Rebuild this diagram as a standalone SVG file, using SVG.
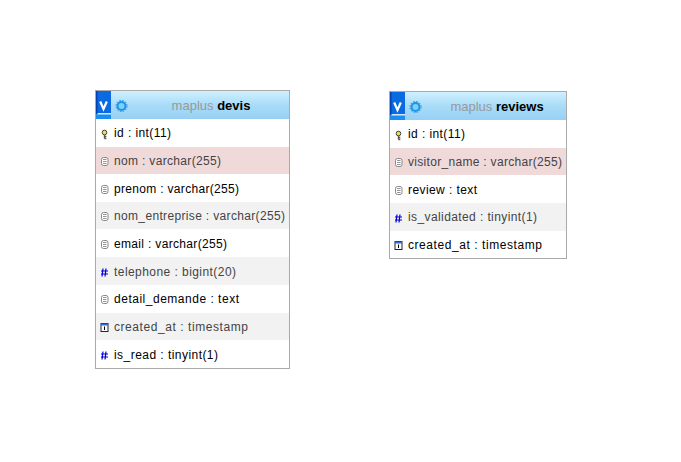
<svg xmlns="http://www.w3.org/2000/svg" width="681" height="462" viewBox="0 0 681 462">
<style>
text{font-family:"Liberation Sans",Arial,sans-serif;font-size:12px;fill:#000}
.alt{fill:#444}
.frame{fill:none;stroke:#aaa;stroke-width:1}
.pink{fill:#f0d9d9}.grey{fill:#f2f2f2}.white{fill:#fff}
.title{text-anchor:middle;font-size:13px}
.db{fill:#999}
.tn{font-weight:bold;fill:#000}
</style>
<defs>
<linearGradient id="hd" x1="0" y1="0" x2="0" y2="1"><stop offset="0" stop-color="#cff0ff"/><stop offset="0.5" stop-color="#a8dcf8"/><stop offset="1" stop-color="#98d0f4"/></linearGradient>
<g id="head">
<rect x="0" y="0" width="15" height="28" fill="#0a6ae0"/>
<rect x="0" y="0" width="1.5" height="23" fill="#0a3fb0"/>
<rect x="0" y="23" width="15" height="5" fill="#1d8cf0"/>
<rect x="1.500" y="22" width="13.500" height="1.500" fill="#cfe8ff"/>
<path d="M4.200 10.500l3.300 7.500 3.300-7.500" fill="none" stroke="#fff" stroke-width="2.200"/>
<circle cx="25.500" cy="15" r="4" fill="#7ed0f8" stroke="#1c93e6" stroke-width="2"/>
<circle cx="25.500" cy="15" r="5.600" fill="none" stroke="#1c93e6" stroke-width="1" stroke-dasharray="1.500 1.430"/>
</g>
<g id="key"><circle cx="0" cy="-1.500" r="2.300" fill="#eee04a" stroke="#444" stroke-width="1"/><path d="M0 1v3.500M0 2.500h1.800M0 4.500h1.800" stroke="#555" stroke-width="1.400" fill="none"/></g>
<g id="txt"><rect x="-3" y="-3.500" width="6.500" height="8" rx="2" fill="#fff" stroke="#888" stroke-width="1"/><path d="M-1.500 -1.500h3.500M-1.500 .5h3.500M-1.500 2.500h3.500" stroke="#888" stroke-width=".9"/></g>
<g id="num"><path d="M-1.500 -3.500l-1 8M1.500 -3.500l-1 8M-3.500 -1h7M-3.500 2h7" stroke="#0000d8" stroke-width="1.200" fill="none"/></g>
<g id="date"><rect x="-3.500" y="-3.500" width="7" height="8" fill="#fff" stroke="#223" stroke-width="1"/><rect x="-3.500" y="-3.500" width="7" height="2" fill="#2a6fd8"/><path d="M0 -.5v3.500" stroke="#000" stroke-width="1"/></g>
</defs>
<g id="connectors"/>
<g id="table-devis">
<rect x="96" y="91" width="193" height="28" fill="url(#hd)"/>
<use href="#head" x="96" y="91"/>
<text class="title" x="211" y="110"><tspan class="db">maplus</tspan> <tspan class="tn">devis</tspan></text>
<rect class="white" x="96" y="119" width="193" height="249"/>
<rect class="pink" x="96" y="147" width="193" height="27"/>
<rect class="grey" x="96" y="202" width="193" height="27"/>
<rect class="grey" x="96" y="257" width="193" height="28"/>
<rect class="grey" x="96" y="313" width="193" height="27"/>
<use href="#key" x="104.500" y="134"/><text x="114" y="137" textLength="57">id : int(11)</text>
<use href="#txt" x="104.500" y="161"/><text class="alt" x="114" y="165" textLength="107">nom : varchar(255)</text>
<use href="#txt" x="104.500" y="189"/><text x="114" y="193" textLength="125">prenom : varchar(255)</text>
<use href="#txt" x="104.500" y="216"/><text class="alt" x="114" y="220" textLength="171">nom_entreprise : varchar(255)</text>
<use href="#txt" x="104.500" y="244"/><text x="114" y="248" textLength="113">email : varchar(255)</text>
<use href="#num" x="104.500" y="272"/><text class="alt" x="114" y="276" textLength="122">telephone : bigint(20)</text>
<use href="#txt" x="104.500" y="299"/><text x="114" y="303" textLength="125">detail_demande : text</text>
<use href="#date" x="104.500" y="327"/><text class="alt" x="114" y="331" textLength="134">created_at : timestamp</text>
<use href="#num" x="104.500" y="355"/><text x="114" y="359" textLength="104">is_read : tinyint(1)</text>
<rect class="frame" x="95.500" y="90.500" width="194" height="278"/>
</g>
<g id="table-reviews">
<rect x="390" y="92" width="176" height="28" fill="url(#hd)"/>
<use href="#head" x="390" y="92"/>
<text class="title" x="497" y="111"><tspan class="db">maplus</tspan> <tspan class="tn">reviews</tspan></text>
<rect class="white" x="390" y="120" width="176" height="138"/>
<rect class="pink" x="390" y="148" width="176" height="27"/>
<rect class="grey" x="390" y="203" width="176" height="28"/>
<use href="#key" x="398.500" y="135"/><text x="408" y="138" textLength="57">id : int(11)</text>
<use href="#txt" x="398.500" y="162"/><text class="alt" x="408" y="166" textLength="154">visitor_name : varchar(255)</text>
<use href="#txt" x="398.500" y="190"/><text x="408" y="194" textLength="69">review : text</text>
<use href="#num" x="398.500" y="218"/><text class="alt" x="408" y="221" textLength="129">is_validated : tinyint(1)</text>
<use href="#date" x="398.500" y="245"/><text x="408" y="249" textLength="134">created_at : timestamp</text>
<rect class="frame" x="389.500" y="91.500" width="177" height="167"/>
</g>
</svg>
